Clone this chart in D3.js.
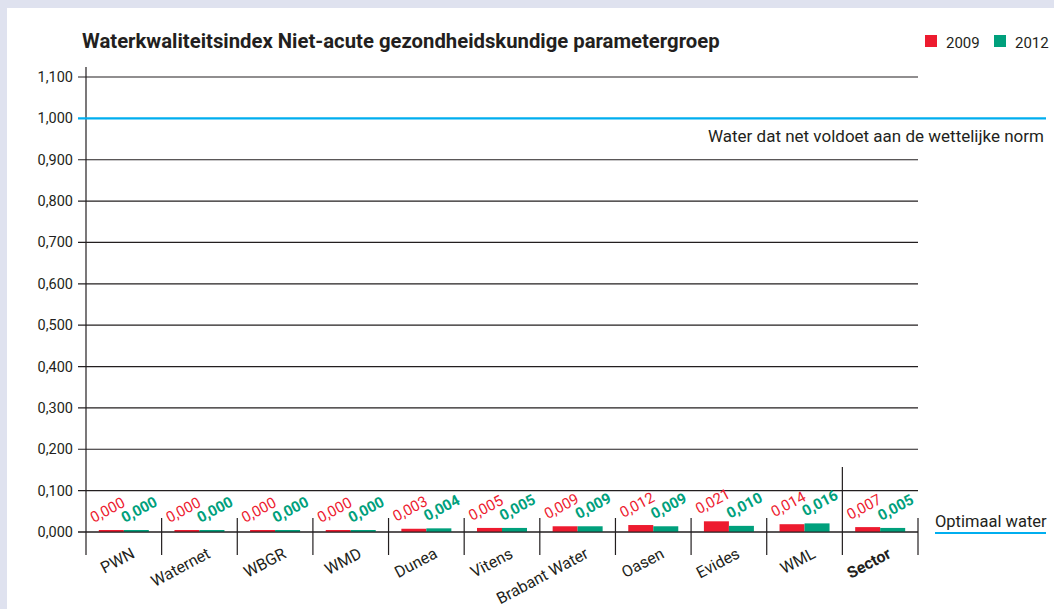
<!DOCTYPE html>
<html>
<head>
<meta charset="utf-8">
<script src="https://cdn.jsdelivr.net/npm/d3@7"></script>
<style>
  body { margin: 0; background: #dfe2ef; }
  svg { display: block; }
  text { font-family: Roboto, "Liberation Sans", sans-serif; fill: #231f20; }
</style>
</head>
<body>
<div id="chart"></div>
<script>
// chart values
const categories = ["PWN", "Waternet", "WBGR", "WMD", "Dunea", "Vitens", "Brabant Water", "Oasen", "Evides", "WML", "Sector"];
const values2009 = [0.000, 0.000, 0.000, 0.000, 0.003, 0.005, 0.009, 0.012, 0.021, 0.014, 0.007];
const values2012 = [0.000, 0.000, 0.000, 0.000, 0.004, 0.005, 0.009, 0.009, 0.010, 0.016, 0.005];
const yTicks = [0, 0.1, 0.2, 0.3, 0.4, 0.5, 0.6, 0.7, 0.8, 0.9, 1.0, 1.1];
const seriesNames = ["2009", "2012"];
const normValue = 1.0;

const width = 1054, height = 609;
const red = "#ed1b2f", green = "#00a07c", blue = "#00aeef";

const svg = d3.select("#chart").append("svg")
    .attr("width", width)
    .attr("height", height);

// white panel
svg.append("rect")
    .attr("x", 7).attr("y", 8)
    .attr("width", width - 7).attr("height", height - 8)
    .attr("fill", "#fff");

const margin = {left: 86, right: 918, top: 77, bottom: 532};

const x = d3.scaleBand()
    .domain(categories)
    .range([margin.left, margin.right])
    .padding(0);

const y = d3.scaleLinear()
    .domain([0, 1.1])
    .range([margin.bottom, margin.top]);

const fmt = v => d3.format(".3f")(v).replace(".", ",");

// gridlines + tick labels
const grid = svg.append("g");
grid.selectAll("line")
    .data(yTicks)
    .enter().append("line")
    .attr("x1", margin.left - 8)
    .attr("x2", margin.right)
    .attr("y1", d => y(d))
    .attr("y2", d => y(d))
    .attr("stroke", d => d === normValue ? "none" : "#231f20")
    .attr("stroke-width", 1.2);

grid.selectAll("text")
    .data(yTicks)
    .enter().append("text")
    .attr("x", 73)
    .attr("y", d => y(d) + 5)
    .attr("text-anchor", "end")
    .attr("font-size", "14.5px")
    .text(d => fmt(d));

// y axis line
svg.append("line")
    .attr("x1", margin.left).attr("x2", margin.left)
    .attr("y1", 67).attr("y2", 555)
    .attr("stroke", "#231f20").attr("stroke-width", 1.2);

// category separators
const seps = categories.slice(1).map(c => x(c)).concat([margin.right]);
svg.selectAll(".sep")
    .data(seps)
    .enter().append("line")
    .attr("class", "sep")
    .attr("x1", d => d).attr("x2", d => d)
    .attr("y1", d => d === x("Sector") ? 467 : 518)
    .attr("y2", 555)
    .attr("stroke", "#231f20").attr("stroke-width", 1.2);

// norm line
svg.append("line")
    .attr("x1", margin.left - 8).attr("x2", 1046)
    .attr("y1", y(normValue)).attr("y2", y(normValue))
    .attr("stroke", blue).attr("stroke-width", 2.2);

svg.append("text")
    .attr("x", 1044)
    .attr("y", y(normValue) + 24)
    .attr("text-anchor", "end")
    .attr("font-size", "17px")
    .text("Water dat net voldoet aan de wettelijke norm");

// optimaal water
svg.append("text")
    .attr("x", 935)
    .attr("y", y(0) - 5)
    .attr("font-size", "16.5px")
    .text("Optimaal water");
svg.append("line")
    .attr("x1", 935).attr("x2", 1046)
    .attr("y1", y(0) + 1).attr("y2", y(0) + 1)
    .attr("stroke", blue).attr("stroke-width", 2.2);

// bars
const barW = 25;
const series = [values2009, values2012];
const colors = [red, green];

series.forEach((vals, s) => {
    const g = svg.append("g");
    g.selectAll("rect")
        .data(categories)
        .enter().append("rect")
        .attr("x", c => x(c) + x.bandwidth() / 2 - barW + s * barW)
        .attr("y", (c, i) => y(vals[i]) - 2)
        .attr("width", barW)
        .attr("height", (c, i) => y(0) - y(vals[i]) + 2)
        .attr("fill", colors[s]);

    g.selectAll("text")
        .data(categories)
        .enter().append("text")
        .attr("transform", (c, i) => {
            const bx = x(c) + x.bandwidth() / 2 - barW + s * barW + (s === 0 ? -5 : 1);
            const by = y(vals[i]) - 9;
            return `translate(${bx},${by}) rotate(-28)`;
        })
        .attr("font-size", "15px")
        .attr("font-weight", s === 1 ? "bold" : "normal")
        .style("fill", colors[s])
        .text((c, i) => fmt(vals[i]));
});

// redraw baseline on top of bars
svg.append("line")
    .attr("x1", margin.left - 8).attr("x2", margin.right)
    .attr("y1", y(0)).attr("y2", y(0))
    .attr("stroke", "#231f20").attr("stroke-width", 1.2);

// category labels
svg.append("g").selectAll("text")
    .data(categories)
    .enter().append("text")
    .attr("transform", c => `translate(${x(c) + x.bandwidth() / 2 + 12},${y(0) + 25}) rotate(-28)`)
    .attr("text-anchor", "end")
    .attr("font-size", "16px")
    .attr("font-weight", c => c === "Sector" ? "bold" : "normal")
    .text(c => c);

// title
svg.append("text")
    .attr("x", 82)
    .attr("y", 48)
    .attr("font-size", "20.3px")
    .attr("font-weight", "bold")
    .text("Waterkwaliteitsindex Niet-acute gezondheidskundige parametergroep");

// legend
const legend = svg.append("g");
const legendX = [925, 994];
seriesNames.forEach((n, i) => {
    legend.append("rect")
        .attr("x", legendX[i]).attr("y", 35)
        .attr("width", 12).attr("height", 12)
        .attr("fill", colors[i]);
    legend.append("text")
        .attr("x", legendX[i] + 21).attr("y", 48)
        .attr("font-size", "15px")
        .text(n);
});
</script>
</body>
</html>
